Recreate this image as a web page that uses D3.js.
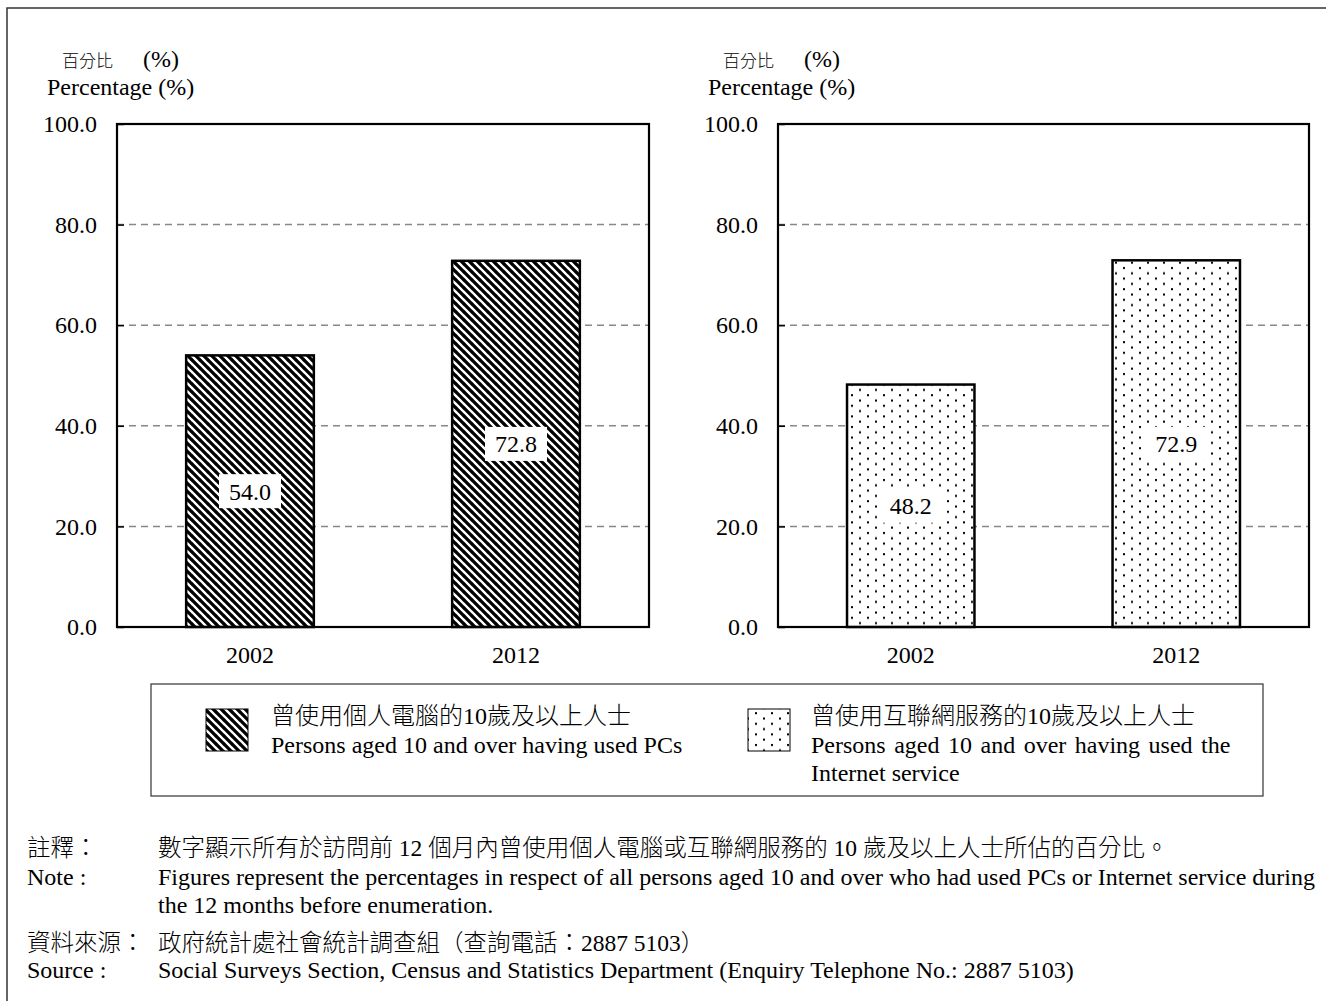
<!DOCTYPE html>
<meta charset="utf-8">
<style>
body { margin: 0; background: #fff; }
text { font-family: "Liberation Serif", "Noto Sans CJK TC", serif; fill: #000; }
text.cjk { font-weight: 300; }
.grid line { stroke: #888; stroke-width: 1.5; stroke-dasharray: 7,5; }
.frame { fill: none; stroke: #000; stroke-width: 2.2; }
</style>
<body>
<script src="https://cdn.jsdelivr.net/npm/d3@7"></script>
<script>

// data
var years = ["2002", "2012"];
var pcValues = [54.0, 72.8];
var internetValues = [48.2, 72.9];
var yTicks = [0, 20, 40, 60, 80, 100];

var legendLabels = [
    ["曾使用個人電腦的10歲及以上人士", "Persons aged 10 and over having used PCs"],
    ["曾使用互聯網服務的10歲及以上人士", "Persons aged 10 and over having used the", "Internet service"]
];

var noteLines = [
    ["註釋：", "數字顯示所有於訪問前 12 個月內曾使用個人電腦或互聯網服務的 10 歲及以上人士所佔的百分比。"],
    ["Note :", "Figures represent the percentages in respect of all persons aged 10 and over who had used PCs or Internet service during"],
    ["", "the 12 months before enumeration."],
    ["資料來源：", "政府統計處社會統計調查組（查詢電話：2887 5103）"],
    ["Source :", "Social Surveys Section, Census and Statistics Department (Enquiry Telephone No.: 2887 5103)"]
];

var svg = d3.select("body").append("svg")
    .attr("width", 1326)
    .attr("height", 1001);

// patterns
var defs = svg.append("defs");
var hatch = defs.append("pattern")
    .attr("id", "hatch")
    .attr("patternUnits", "userSpaceOnUse")
    .attr("width", 8).attr("height", 8);
hatch.append("rect").attr("width", 8).attr("height", 8).attr("fill", "#fff");
hatch.append("path")
    .attr("d", "M-1,-1 L9,9 M-1,7 L1,9 M7,-1 L9,1")
    .attr("stroke", "#000").attr("stroke-width", 3.2);

var dots = defs.append("pattern")
    .attr("id", "dots")
    .attr("patternUnits", "userSpaceOnUse")
    .attr("width", 16).attr("height", 10.6);
dots.append("rect").attr("width", 16).attr("height", 10.6).attr("fill", "#fff");
dots.append("rect").attr("x", 3).attr("y", 2).attr("width", 2).attr("height", 2).attr("fill", "#000");
dots.append("rect").attr("x", 11).attr("y", 7.3).attr("width", 2).attr("height", 2).attr("fill", "#000");

// outer frame (only top and left are in view)
svg.append("path")
    .attr("d", "M7,1001 L7,8 L1326,8")
    .attr("fill", "none")
    .attr("stroke", "#333")
    .attr("stroke-width", 1.5);

var y = d3.scaleLinear().domain([0, 100]).range([627, 124]);

function drawPanel(x0, x1, values, fillId) {
    var x = d3.scaleBand().domain(years).range([x0, x1])
        .paddingInner(0.52).paddingOuter(0.26);

    var g = svg.append("g");

    // titles
    g.append("text").attr("class", "cjk")
        .attr("x", x0 - 55).attr("y", 67)
        .style("font-size", "17px")
        .text("百分比");
    g.append("text")
        .attr("x", x0 + 26).attr("y", 67)
        .style("font-size", "24px")
        .text("(%)");
    g.append("text")
        .attr("x", x0 - 70).attr("y", 95)
        .style("font-size", "24px")
        .text("Percentage (%)");

    // gridlines
    g.append("g").attr("class", "grid")
        .selectAll("line")
        .data(yTicks.filter(function(d) { return d > 0 && d < 100; }))
        .enter().append("line")
        .attr("x1", x0).attr("x2", x1)
        .attr("y1", function(d) { return y(d); })
        .attr("y2", function(d) { return y(d); });

    // bars
    g.selectAll(".bar")
        .data(values)
        .enter().append("rect")
        .attr("class", "bar")
        .attr("x", function(d, i) { return x(years[i]); })
        .attr("y", function(d) { return y(d); })
        .attr("width", x.bandwidth())
        .attr("height", function(d) { return y(0) - y(d); })
        .attr("fill", "url(#" + fillId + ")")
        .attr("stroke", "#000")
        .attr("stroke-width", 2.5);

    // value labels
    var lab = g.selectAll(".lab")
        .data(values)
        .enter().append("g")
        .attr("transform", function(d, i) {
            return "translate(" + (x(years[i]) + x.bandwidth() / 2) + "," + ((y(d) + y(0)) / 2) + ")";
        });
    lab.append("rect")
        .attr("x", -31).attr("y", -17)
        .attr("width", 62).attr("height", 34)
        .attr("fill", "#fff");
    lab.append("text")
        .attr("text-anchor", "middle")
        .attr("dy", "0.35em")
        .style("font-size", "24px")
        .text(function(d) { return d.toFixed(1); });

    // y axis
    var yAxis = g.append("g")
        .attr("transform", "translate(" + x0 + ",0)")
        .call(d3.axisLeft(y).tickValues(yTicks).tickFormat(d3.format(".1f")).tickSize(-7).tickPadding(20));
    yAxis.select(".domain").remove();
    yAxis.selectAll("line").attr("stroke", "#000").attr("stroke-width", 1.5);
    yAxis.selectAll("text").style("font-size", "24px").style("font-family", "Liberation Serif");

    // x axis labels
    var xAxis = g.append("g")
        .attr("transform", "translate(0," + y(0) + ")")
        .call(d3.axisBottom(x).tickSize(0).tickPadding(19));
    xAxis.select(".domain").remove();
    xAxis.selectAll("text").style("font-size", "24px").style("font-family", "Liberation Serif");

    // plot frame
    g.append("rect").attr("class", "frame")
        .attr("x", x0).attr("y", y(100))
        .attr("width", x1 - x0).attr("height", y(0) - y(100));
}

drawPanel(117, 649, pcValues, "hatch");
drawPanel(778, 1309, internetValues, "dots");

// legend
var legend = svg.append("g");
legend.append("rect")
    .attr("x", 151).attr("y", 684)
    .attr("width", 1112).attr("height", 112)
    .attr("fill", "none").attr("stroke", "#333").attr("stroke-width", 1.2);

var legendItems = [
    { sx: 206, tx: 271, fill: "hatch" },
    { sx: 748, tx: 811, fill: "dots" }
];
legendItems.forEach(function(item, i) {
    legend.append("rect")
        .attr("x", item.sx).attr("y", 709)
        .attr("width", 42).attr("height", 42)
        .attr("fill", "url(#" + item.fill + ")")
        .attr("stroke", "#000").attr("stroke-width", 1);
    legendLabels[i].forEach(function(line, j) {
        legend.append("text")
            .attr("class", j === 0 ? "cjk" : null)
            .attr("x", item.tx).attr("y", 724 + j * 28.5)
            .style("font-size", "24px")
            .style("word-spacing", (i === 1 && j === 1) ? "2.5px" : null)
            .text(line);
    });
});

// notes
var notes = svg.append("g");
var noteY = [856, 885, 913, 951, 978];
noteLines.forEach(function(line, i) {
    var isCjk = i % 3 === 0;
    notes.append("text")
        .attr("class", isCjk ? "cjk" : null)
        .attr("x", 27).attr("y", noteY[i])
        .style("font-size", isCjk ? "23.5px" : "24px")
        .text(line[0]);
    notes.append("text")
        .attr("class", isCjk ? "cjk" : null)
        .attr("x", 158).attr("y", noteY[i])
        .style("font-size", isCjk ? "23.5px" : "24px")
        .text(line[1]);
});

</script>
</body>
